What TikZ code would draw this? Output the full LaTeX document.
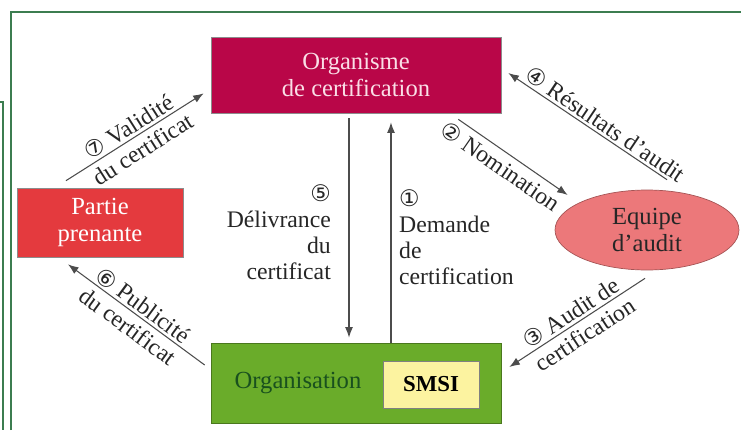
\documentclass[tikz,border=0pt]{standalone}
\usepackage{fontspec}
\setmainfont{Liberation Serif}
\newfontfamily\circfont{DejaVu Sans}
\usetikzlibrary{arrows.meta,shapes.geometric}

\definecolor{certred}{RGB}{185,6,72}
\definecolor{certtext}{RGB}{250,222,230}
\definecolor{partred}{RGB}{228,58,62}
\definecolor{auditpink}{RGB}{236,120,122}
\definecolor{orggreen}{RGB}{106,172,42}
\definecolor{orgtext}{RGB}{25,80,30}
\definecolor{smsiyellow}{RGB}{252,243,160}
\definecolor{framegreen}{RGB}{60,125,80}

\begin{document}
\begin{tikzpicture}[x=0.02cm, y=-0.02cm]
    \tikzset{
        box/.style = {
            draw = black!45,
            thin,
            rectangle,
            align = center,
            font = \fontsize{14}{15.5}\selectfont
        },
        arr/.style = {
            draw = black!70,
            line width = 0.6pt,
            -{Latex[length=6pt, width=4.5pt]}
        },
        arrback/.style = {
            draw = black!70,
            line width = 0.6pt,
            {Latex[length=6pt, width=4.5pt]}-
        },
        lbl/.style = {
            font = \fontsize{13.5}{14.8}\selectfont,
            text = black!85,
            inner sep = 1.5pt
        }
    }
    \def\cn#1{{\circfont\fontsize{13}{13}\selectfont #1}}

    \useasboundingbox (0,0) rectangle (741,430);

    % frame
    \draw[framegreen, line width=0.7pt] (11,430) -- (11,12) -- (741,12);
    \draw[framegreen, line width=0.7pt] (0,102) -- (3,102) -- (3,430);

    % boxes
    \node[box, fill=certred, text=certtext, minimum width=5.8cm, minimum height=1.52cm] (cert) at (356,75) {Organisme\\de certification};
    \node[box, fill=partred, text=white, minimum width=3.32cm, minimum height=1.38cm] (partie) at (100,222.5) {Partie\\prenante};
    \node[box, ellipse, fill=auditpink, draw=auditpink!70!black, text=black!85, minimum width=3.68cm, minimum height=1.6cm] (equipe) at (647,230) {Equipe\\d'audit};
    \node[box, fill=orggreen, draw=orggreen!70!black, minimum width=5.8cm, minimum height=1.6cm] (org) at (356,383) {};
    \node[box, fill=smsiyellow, draw=black!50, minimum width=1.92cm, minimum height=0.94cm, font=\bfseries\fontsize{13}{14}\selectfont] (smsi) at (431,384.5) {SMSI};
    \node[font=\fontsize{14}{15.5}\selectfont, text=orgtext] (orgname) at (298,383) {Organisation};

    % vertical arrows
    \draw[arr] ([xshift=-0.14cm, yshift=-0.1cm]cert.south) -- ([xshift=-0.14cm, yshift=0.1cm]org.north)
        node[lbl, pos=0.52, left=0.3cm, align=right] (l5) {\cn{⑤}\\Délivrance\\du\\certificat};
    \draw[arr] ([xshift=0.7cm]org.north) -- ([xshift=0.7cm, yshift=-0.18cm]cert.south)
        node[lbl, pos=0.48, right=0.1cm, align=left] (l1) {\cn{①}\\Demande\\de\\certification};

    % slanted arrows, all drawn left to right
    \draw[arr] ([xshift=-0.68cm, yshift=0.14cm]partie.north) -- ([xshift=-0.14cm, yshift=0.4cm]cert.south west)
        node[lbl, midway, sloped, above] (l7a) {\cn{⑦} Validité}
        node[lbl, midway, sloped, below, inner sep=3pt] (l7b) {du certificat};
    \draw[arrback] ([xshift=-0.64cm, yshift=-0.14cm]partie.south) -- ([xshift=-0.12cm, yshift=0.36cm]org.west)
        node[lbl, midway, sloped, above] (l6a) {\cn{⑥} Publicité}
        node[lbl, midway, sloped, below, inner sep=3pt] (l6b) {du certificat};
    \draw[arr] ([xshift=-0.86cm, yshift=-0.12cm]cert.south east) -- ([xshift=0.26cm, yshift=0.7cm]equipe.west)
        node[lbl, pos=0.46, sloped, below, inner sep=3pt] (l2) {\cn{②} Nomination};
    \draw[arrback] ([xshift=0.14cm, yshift=0.04cm]cert.east) -- ([xshift=0.4cm, yshift=0.2cm]equipe.north)
        node[lbl, pos=0.57, sloped, above] (l4) {\cn{④} Résultats d'audit};
    \draw[arrback] ([xshift=0.16cm, yshift=0.32cm]org.east) -- ([xshift=-0.04cm, yshift=-0.16cm]equipe.south)
        node[lbl, midway, sloped, above] (l3a) {\cn{③} Audit de}
        node[lbl, midway, sloped, below, inner sep=3pt] (l3b) {certification};

\end{tikzpicture}
\end{document}
